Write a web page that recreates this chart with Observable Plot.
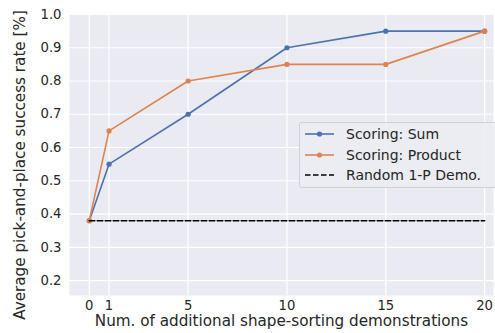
<!DOCTYPE html>
<html>
<head>
<meta charset="utf-8">
<script src="https://cdn.jsdelivr.net/npm/d3@7"></script>
<script src="https://cdn.jsdelivr.net/npm/@observablehq/plot@0.6"></script>
<style>
  html, body { margin: 0; padding: 0; background: #fff; }
  #wrap { position: relative; width: 495px; height: 333px; overflow: hidden; font-family: "DejaVu Sans", sans-serif; }
  #legend { position: absolute; left: 299px; top: 122px; width: 210px; height: 66px; box-sizing: border-box;
    background: rgba(236,236,243,0.9); border: 1px solid #cfcfd4; border-radius: 3px; }
  .row { position: absolute; left: 0; height: 20px; display: flex; align-items: center; font-size: 14px; color: #262626; white-space: nowrap; }
  .row svg { margin-left: 5px; margin-right: 12px; }
</style>
</head>
<body>
<div id="wrap"></div>
<script>
const demos = [0, 1, 5, 10, 15, 20];
const sumRate = [0.38, 0.55, 0.70, 0.90, 0.95, 0.95];
const productRate = [0.38, 0.65, 0.80, 0.85, 0.85, 0.95];
const randomX = [0, 20];
const randomRate = [0.38, 0.38];
const yTicks = [0.2, 0.3, 0.4, 0.5, 0.6, 0.7, 0.8, 0.9, 1.0];
const seriesNames = ["Scoring: Sum", "Scoring: Product", "Random 1-P Demo."];
const colors = ["#4C72B0", "#DD8452", "#000000"];
const xTitle = "Num. of additional shape-sorting demonstrations";
const yTitle = "Average pick-and-place success rate [%]";

const sumData = demos.map((d, i) => ({x: d, y: sumRate[i]}));
const prodData = demos.map((d, i) => ({x: d, y: productRate[i]}));
const randData = randomX.map((d, i) => ({x: d, y: randomRate[i]}));

const chart = Plot.plot({
  width: 495,
  height: 333,
  marginLeft: 69,
  marginRight: 2,
  marginTop: 14,
  marginBottom: 38,
  style: {fontFamily: "DejaVu Sans, sans-serif", fontSize: "13px", color: "#262626", background: "transparent"},
  x: {domain: [-1, 20.45], ticks: demos, tickFormat: d => String(d)},
  y: {domain: [0.155, 1.0], ticks: yTicks, tickFormat: d => d.toFixed(1)},
  marks: [
    Plot.frame({fill: "#EAEAF2", stroke: null}),
    Plot.gridX(demos, {stroke: "#ffffff", strokeOpacity: 1, strokeWidth: 1.2}),
    Plot.gridY(yTicks, {stroke: "#ffffff", strokeOpacity: 1, strokeWidth: 1.2}),
    Plot.axisX(demos, {tickSize: 0, tickPadding: 5, label: null, fontSize: 13.2, fill: "#262626"}),
    Plot.axisY(yTicks, {tickSize: 0, tickPadding: 8, label: null, fontSize: 13.2, fill: "#262626", tickFormat: d => d.toFixed(1)}),
    Plot.line(sumData, {x: "x", y: "y", stroke: colors[0], strokeWidth: 1.6}),
    Plot.dot(sumData, {x: "x", y: "y", fill: colors[0], r: 2.6, stroke: null}),
    Plot.line(prodData, {x: "x", y: "y", stroke: colors[1], strokeWidth: 1.6}),
    Plot.dot(prodData, {x: "x", y: "y", fill: colors[1], r: 2.6, stroke: null}),
    Plot.line(randData, {x: "x", y: "y", stroke: colors[2], strokeWidth: 1.6, strokeDasharray: "5.5,2.5"}),
    Plot.text([xTitle], {frameAnchor: "bottom", dy: 30, fontSize: 15.2, fill: "#262626", text: d => d}),
    Plot.text([yTitle], {frameAnchor: "left", textAnchor: "middle", dx: -49, dy: 10, rotate: -90, fontSize: 15.2, fill: "#262626", text: d => d})
  ]
});
const wrap = document.getElementById("wrap");
wrap.appendChild(chart);

const legend = document.createElement("div");
legend.id = "legend";
seriesNames.forEach((name, i) => {
  const row = document.createElement("div");
  row.className = "row";
  row.style.top = (1 + i * 20.5) + "px";
  const dash = i === 2 ? 'stroke-dasharray="5.5,2.5"' : "";
  const dot = i < 2 ? `<circle cx="14.5" cy="6" r="2.6" fill="${colors[i]}"/>` : "";
  row.innerHTML = `<svg width="29" height="12"><line x1="0" y1="6" x2="29" y2="6" stroke="${colors[i]}" stroke-width="1.6" ${dash}/>${dot}</svg><span>${name}</span>`;
  legend.appendChild(row);
});
wrap.appendChild(legend);
</script>
</body>
</html>
